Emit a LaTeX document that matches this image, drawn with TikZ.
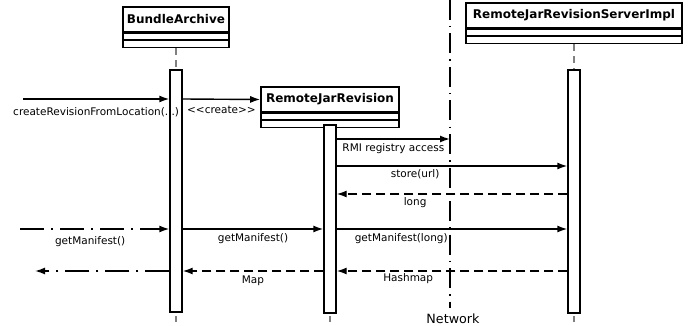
\documentclass[tikz,border=0pt]{standalone}
\usepackage{fontspec}
\setmainfont{DejaVu Sans}
\usetikzlibrary{arrows.meta,positioning}

\begin{document}
\begin{tikzpicture}[x=1pt,y=-1pt]
	\tikzstyle{classbox}=[draw, line width=1.6pt, inner sep=0pt, font=\fontsize{12}{14}\selectfont\bfseries]
	\tikzstyle{part}=[draw, line width=1.3pt, inner sep=0pt]
	\tikzstyle{bar}=[draw, line width=1.4pt, fill=white, minimum width=12pt, inner sep=0pt]
	\tikzstyle{life}=[draw, gray, line width=1.2pt, dash pattern=on 7pt off 5pt]
	\tikzstyle{msg}=[draw, line width=1.4pt, -{Latex[length=10pt,width=7pt]}]
	\tikzstyle{reply}=[msg, dash pattern=on 9pt off 5pt]
	\tikzstyle{outside}=[msg, dash pattern=on 24pt off 7pt on 2pt off 7pt]
	\tikzstyle{lbl}=[font=\fontsize{10.5}{12}\selectfont, inner sep=1pt]

	\newcommand\Ycreate{99}
	\newcommand\Yrmi{139}
	\newcommand\Ystore{166}
	\newcommand\Ylong{194}
	\newcommand\Yget{229}
	\newcommand\Yback{271}

	\useasboundingbox (0,0) rectangle (690,326);

	% Classes
	\node [classbox, minimum width=106pt, minimum height=25pt] at (176,19.5) (ba) {BundleArchive};
	\node [part, minimum width=106pt, minimum height=6pt, below=0pt of ba] (ba2) {};
	\node [part, minimum width=106pt, minimum height=7pt, below=0pt of ba2] (ba3) {};

	\node [classbox, minimum width=138pt, minimum height=25pt] at (330,99.5) (rjr) {RemoteJarRevision};
	\node [part, minimum width=138pt, minimum height=6pt, below=0pt of rjr] (rjr2) {};
	\node [part, minimum width=138pt, minimum height=7pt, below=0pt of rjr2] (rjr3) {};

	\node [classbox, minimum width=216pt, minimum height=25pt] at (574,15.5) (srv) {RemoteJarRevisionServerImpl};
	\node [part, minimum width=216pt, minimum height=6pt, below=0pt of srv] (srv2) {};
	\node [part, minimum width=216pt, minimum height=7pt, below=0pt of srv2] (srv3) {};

	% Network boundary
	\coordinate (netTop) at (450,0);
	\coordinate (netEnd) at (450,308);
	\path [draw, line width=1.3pt, dash pattern=on 20pt off 6pt on 1.5pt off 6pt] (netTop) -- (netEnd);
	\node [font=\fontsize{12.7}{15}\selectfont, inner sep=0pt] at (453,319) (net) {Network};

	% Lifelines and activations
	\path [life] (ba3.south) -- (176,70);
	\path [life] (srv3.south) -- (574,70);
	\node [bar, minimum height=242pt] at (176,191) (actA) {};
	\node [bar, minimum height=188pt] at (330,219) (actB) {};
	\node [bar, minimum height=243pt] at (574,191.5) (actC) {};
	\coordinate (stubA) at (176,316);
	\coordinate (stubB) at (330,316);
	\coordinate (stubC) at (574,316);
	\path [draw, gray, line width=1.2pt] (stubA) -- ++(0,6);
	\path [draw, gray, line width=1.2pt] (stubB) -- ++(0,6);
	\path [draw, gray, line width=1.2pt] (stubC) -- ++(0,6);

	% Found messages
	\coordinate (inCreate) at (23,\Ycreate);
	\coordinate (inGet) at (20,\Yget);
	\coordinate (outMap) at (35,\Yback);

	% Messages
	\path [msg] (inCreate) -- (actA.west |- inCreate) node [lbl, below=7pt, midway] {createRevisionFromLocation(...)};
	\path [msg] (actA.east |- inCreate) -- (rjr.west) node [lbl, below=5pt, midway] {<\kern0pt<create>\kern0pt>};
	\path [msg] (actB.east |- 0,\Yrmi) -- (netTop |- 0,\Yrmi) node [lbl, below=2.5pt, midway] {RMI registry access};
	\path [msg] (actB.east |- 0,\Ystore) -- (actC.west |- 0,\Ystore) node [lbl, below=2pt, pos=.34] {store(url)};
	\path [reply] (actC.west |- 0,\Ylong) -- (actB.east |- 0,\Ylong) node [lbl, below=2pt, pos=.66] {long};
	\path [msg] (actB.east |- inGet) -- (actC.west |- inGet) node [lbl, below=3pt, pos=.28] {getManifest(long)};
	\path [reply] (actC.west |- outMap) -- (actB.east |- outMap) node [lbl, below=1pt, pos=.69] {Hashmap};

	\path [outside] (inGet) -- (actA.west |- inGet) node [lbl, below=6pt, pos=.47] {getManifest()};
	\path [msg] (actA.east |- inGet) -- (actB.west |- inGet) node [lbl, below=3pt, midway] {getManifest()};
	\path [reply] (actB.west |- outMap) -- (actA.east |- outMap) node [lbl, below=3pt, midway] {Map};
	\path [outside] (actA.west |- outMap) -- (outMap);

\end{tikzpicture}
\end{document}
